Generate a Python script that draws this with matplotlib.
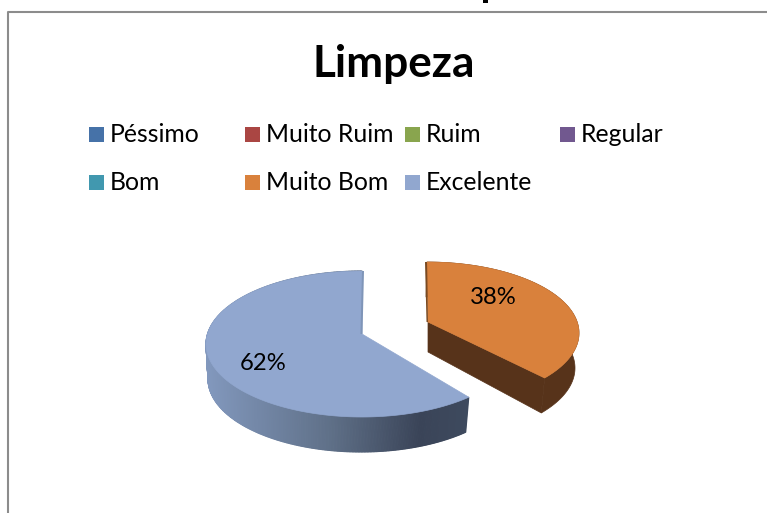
import numpy as np
import matplotlib
matplotlib.use("Agg")
import matplotlib.pyplot as plt
from matplotlib.patches import Polygon, Rectangle
from matplotlib.colors import to_rgb

title = "Limpeza"
categories = ["Péssimo", "Muito Ruim", "Ruim", "Regular", "Bom", "Muito Bom", "Excelente"]
values = [0, 0, 0, 0, 0, 38, 62]
colors = ["#4672a8", "#aa4643", "#89a54e", "#71588f", "#4198af", "#d9813c", "#91a7cf"]
side_colors = ["#8298bd", "#5f7088", "#3a4458", "#3e4a5e"]

plt.rcParams['font.family'] = ['Lato', 'DejaVu Sans']

W, H = 767, 513
fig = plt.figure(figsize=(W / 100, H / 100), dpi=100)
ax = fig.add_axes([0, 0, 1, 1])
ax.set_xlim(0, W)
ax.set_ylim(H, 0)
ax.axis("off")

# chart frame
ax.plot([7.5, 7.5, W], [H, 12, 12], color="#8c8c8c", lw=1.5)
# descender of the heading above, cut off by the image edge
ax.add_patch(Rectangle((483, 0), 5, 3, fc="black", ec="none"))

ax.text(394, 64, title, fontsize=31.8, fontweight="bold", ha="center", va="center")

# legend
col_x = [89, 245, 405, 560]
row_y = [134.5, 182.5]
for i, (name, col) in enumerate(zip(categories, colors)):
    x = col_x[i % 4]
    y = row_y[i // 4]
    ax.add_patch(Rectangle((x, y - 7.5), 15, 15, fc=col, ec="none"))
    ax.text(x + 21, y, name, fontsize=17.8, va="center", ha="left")


def rim(cx, cy, rx, ry, a0, a1):
    t = np.radians(np.linspace(a0, a1, 400))
    return np.column_stack([cx + rx * np.sin(t), cy - ry * np.cos(t)])


# slice angles, clockwise from the top
total = sum(values)
orange_end = 360 * values[5] / total

# Excelente (big slice)
bx, by, brx, bry = 362, 344, 156, 73
blue_apex = (362, 334)
blue_top = rim(bx, by, brx, bry, orange_end, 360)
blue_low = rim(bx - 1, by + 35, brx - 3, bry, orange_end, 360)
# outer wall with a left-to-right shade
stops_x = [206, 330, 420, 468]
rgb = np.array([to_rgb(c) for c in side_colors])
for i in range(len(blue_top) - 1):
    xm = blue_top[i:i + 2, 0].mean()
    col = [np.interp(xm, stops_x, rgb[:, k]) for k in range(3)]
    ax.add_patch(Polygon([blue_top[i], blue_top[i + 1], blue_low[i + 1], blue_low[i]],
                         fc=col, ec=col, lw=0.8))
ax.add_patch(Polygon(np.vstack([blue_apex, blue_top]), fc=colors[6], ec=colors[6], lw=0.5))
# thin inner wall at the top
ax.add_patch(Polygon([blue_top[-1], (blue_top[-1][0] + 2, blue_top[-1][1]), (362.5, 334), (360.5, 334)],
                     fc="#7f95b8", ec="none"))

# Muito Bom (pulled out slice), the cut edge looks a bit foreshortened
ox, oy, orx, ory = 427, 333, 152, 71
orange_apex = (428, 322)
orange_seen = orange_end - 7.5
orange_top = rim(ox, oy, orx, ory, 0, orange_seen)
orange_low = rim(ox - 1, oy + 35, orx - 3, ory, 0, orange_seen)
ax.add_patch(Polygon([orange_apex, orange_top[-1], orange_low[-1], (428, 352)],
                     fc="#57331a", ec="#57331a", lw=0.5))
ax.add_patch(Polygon(np.vstack([orange_top, orange_low[::-1]]), fc="#57331a", ec="#57331a", lw=0.5))
ax.add_patch(Polygon(np.vstack([orange_apex, orange_top]), fc=colors[5], ec=colors[5], lw=0.5))
ax.add_patch(Polygon([orange_top[0], (orange_top[0][0] - 2, orange_top[0][1]), (426.5, 322), orange_apex],
                     fc="#7a4a22", ec="none"))

ax.text(493.5, 297, f"{values[5]}%", fontsize=17.2, ha="center", va="center")
ax.text(263.5, 363, f"{values[6]}%", fontsize=17.2, ha="center", va="center")

fig.savefig("out.png", dpi=100)
